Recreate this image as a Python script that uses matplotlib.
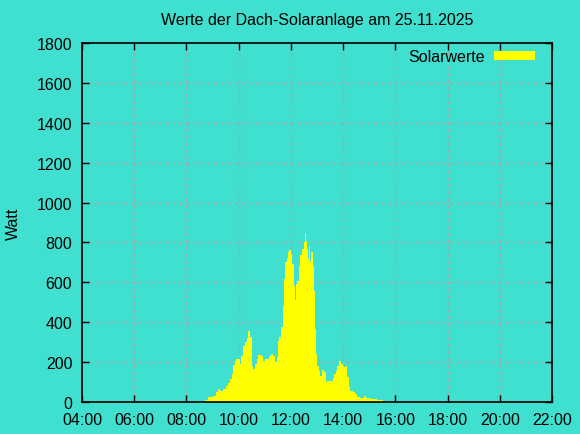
#!/usr/bin/env python3
"""Tagesverlauf der Dach-Solaranlage im gnuplot-Look."""

import matplotlib
matplotlib.use("Agg")
import matplotlib.pyplot as plt

# Startzeiten der Messintervalle (HH:MM) und Leistung in Watt;
# der letzte Zeitpunkt schliesst das letzte Intervall ab
times = ["08:43", "08:50", "09:02", "09:08", "09:13", "09:17", "09:25", "09:31",
         "09:36", "09:40", "09:44", "09:48", "09:52", "09:55", "10:02", "10:05",
         "10:09", "10:15", "10:18", "10:22", "10:26", "10:30", "10:34", "10:38",
         "10:41", "10:45", "10:51", "10:57", "11:01", "11:04", "11:10", "11:14",
         "11:20", "11:24", "11:27", "11:31", "11:33", "11:37", "11:41", "11:44",
         "11:47", "11:50", "11:53", "11:56", "12:00", "12:02", "12:06", "12:09",
         "12:12", "12:15", "12:18", "12:21", "12:25", "12:29", "12:32", "12:34",
         "12:36", "12:39", "12:41", "12:43", "12:46", "12:50", "12:53", "12:55",
         "12:58", "13:01", "13:04", "13:07", "13:12", "13:16", "13:21", "13:24",
         "13:30", "13:36", "13:39", "13:43", "13:47", "13:51", "13:54", "13:59",
         "14:02", "14:06", "14:10", "14:13", "14:16", "14:22", "14:28", "14:33",
         "14:39", "14:47", "14:53", "15:02", "15:17", "15:31", "15:40"]
watt = [10, 24, 32, 49, 65, 57, 65, 79,
        95, 115, 140, 187, 207, 215, 190, 232,
        282, 299, 319, 356, 324, 182, 165, 190,
        215, 236, 229, 207, 215, 215, 232, 241,
        229, 202, 227, 307, 324, 375, 480, 617,
        700, 720, 750, 762, 742, 692, 583, 511,
        592, 608, 683, 737, 767, 801, 848, 809,
        767, 717, 776, 700, 753, 683, 558, 366,
        241, 182, 157, 132, 160, 149, 99, 107,
        107, 119, 140, 157, 182, 204, 190, 182,
        174, 182, 124, 74, 57, 52, 40, 24,
        20, 29, 22, 15, 10, 5]

xticks = [4, 6, 8, 10, 12, 14, 16, 18, 20, 22]
yticks = list(range(0, 1801, 200))

BG = "#40e0d0"


def to_hours(t):
    h, m = t.split(":")
    return int(h) + int(m) / 60


edges = [to_hours(t) for t in times]

plt.rcParams["font.family"] = ["Liberation Sans", "DejaVu Sans"]

fig = plt.figure(figsize=(5.8, 4.35), dpi=100, facecolor=BG)
ax = fig.add_axes([82 / 580, 1 - 403 / 435, 470 / 580, 359 / 435])
ax.set_facecolor(BG)

ax.stairs(watt, edges, fill=True, facecolor="yellow", edgecolor="none",
          linewidth=0, antialiased=False, label="Solarwerte", zorder=2)

ax.set_xlim(4, 22)
ax.set_ylim(0, 1800)
ax.set_xticks(xticks)
ax.set_xticklabels([f"{h:02d}:00" for h in xticks])
ax.set_yticks(yticks)

ax.grid(True, color="#b4a0a8", linestyle=(0, (2, 3)), linewidth=1, zorder=1)
ax.set_axisbelow(True)
ax.tick_params(direction="in", length=5, width=1, top=True, right=True,
               labelsize=11.5, colors="black", pad=7)
for s in ax.spines.values():
    s.set_linewidth(1.2)
    s.set_zorder(3)

ax.set_title("Werte der Dach-Solaranlage am 25.11.2025", fontsize=11.5, pad=14)
ax.set_ylabel("Watt", fontsize=11.5, labelpad=11)

leg = ax.legend(loc="upper right", bbox_to_anchor=(1 - 17 / 470, 1 - 6 / 359),
                frameon=False, fontsize=11.5, markerfirst=False,
                handlelength=2.55, handleheight=0.45, borderaxespad=0,
                borderpad=0, handletextpad=0.6)

fig.savefig("out.png", dpi=100, facecolor=BG)
